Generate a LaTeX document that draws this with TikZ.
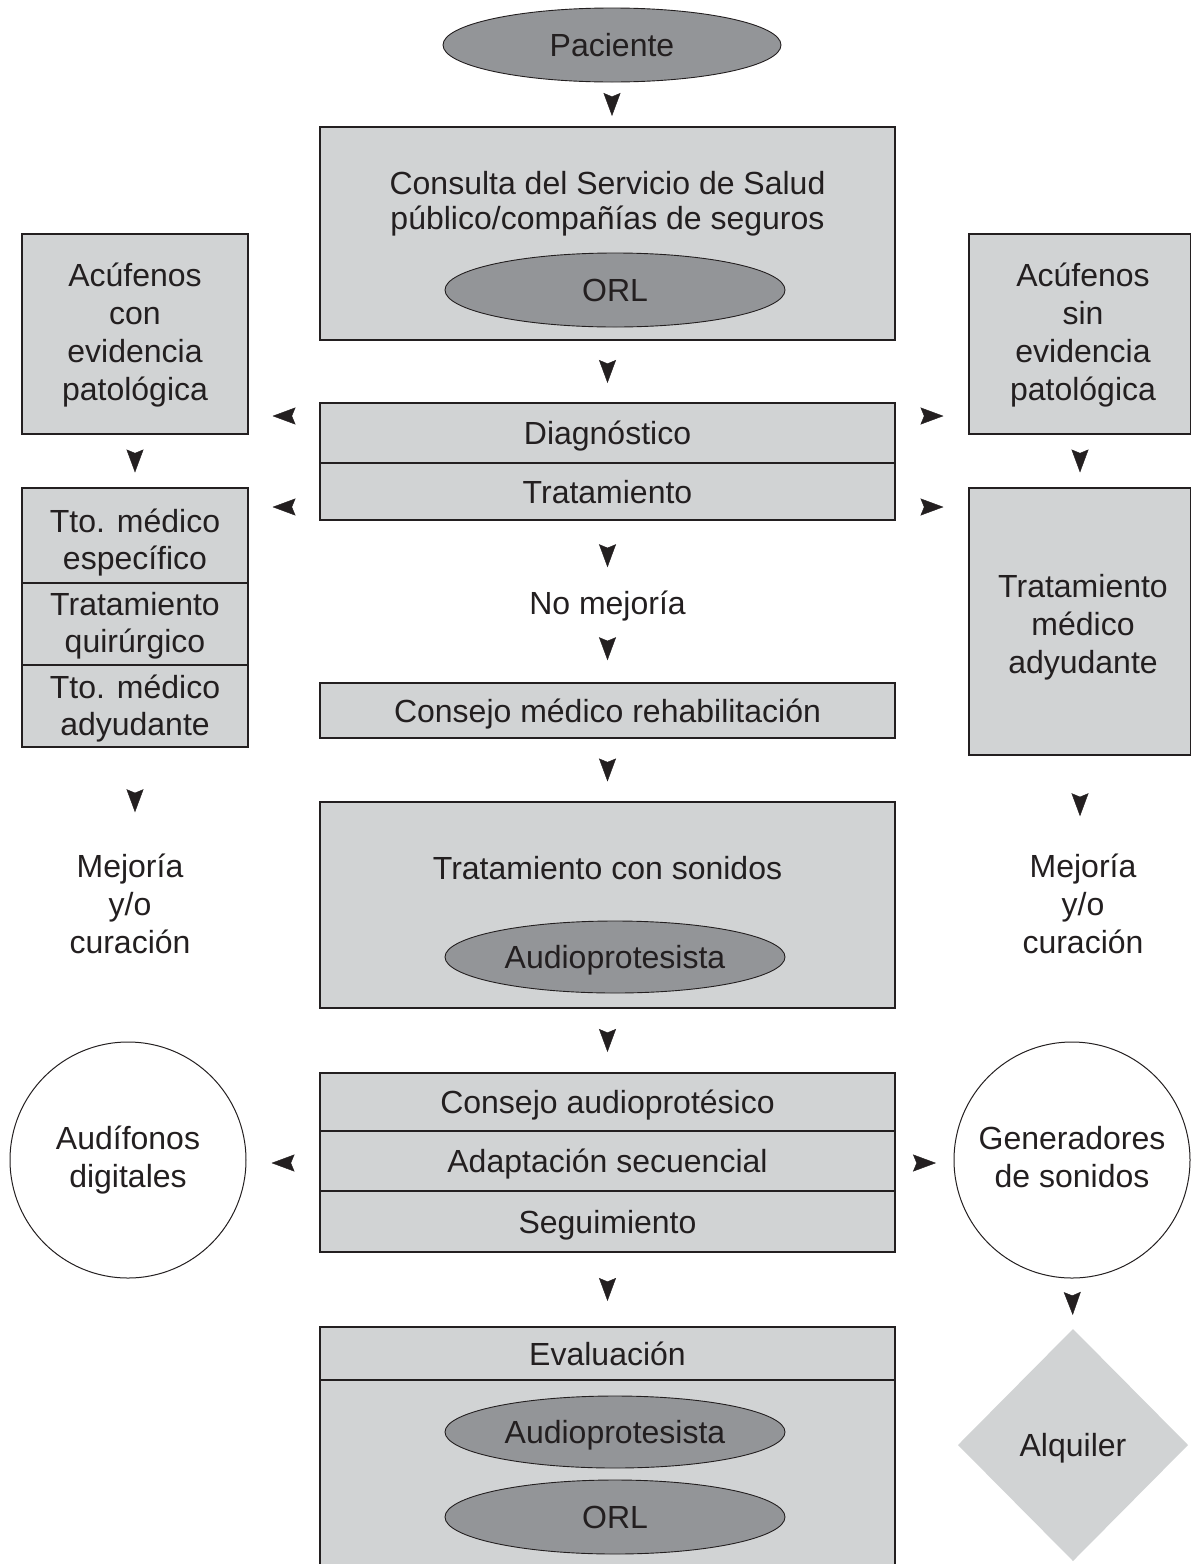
\documentclass[tikz,border=0pt]{standalone}
\usepackage{fontspec}
\setmainfont{Liberation Sans}
\usetikzlibrary{shapes.geometric, arrows.meta, decorations.markings}
\definecolor{tc}{HTML}{231F20}
\definecolor{lg}{HTML}{D1D3D4}
\definecolor{dg}{HTML}{939598}
\begin{document}
\begin{tikzpicture}[x=1pt, y=-1pt,
  base/.style={font=\fontsize{32}{38}\selectfont, text=tc, inner sep=0pt, outer sep=0pt, text height=23pt, text depth=0pt},
  box/.style={base, rectangle, draw=tc, fill=lg, line width=1.4pt},
  ell/.style={base, ellipse, draw=tc, fill=dg, line width=0.9pt, minimum width=338pt, minimum height=74pt},
  circ/.style={base, circle, draw=tc, line width=1pt, minimum size=236pt},
  lbl/.style={base},
  gap/.style={decorate, decoration={markings, mark=at position 0.5 with {\arrow[tc, xshift=11.5pt]{Stealth[length=23pt, width=17pt, inset=3.5pt]}}}}
]
\useasboundingbox (0,0) rectangle (1191,1564);

% top
\node[ell] (pac) at (612,45) {Paciente};

\node[box, minimum width=575pt, minimum height=213pt] (cons) at (607.5,233.5) {};
\node[lbl] (cons1) at (607.5,183) {Consulta del Servicio de Salud};
\node[lbl] (cons2) at (607.5,218) {público/compañías de seguros};
\node[ell, minimum width=340pt, minimum height=74pt] (orl1) at (615,290) {ORL};

\node[box, minimum width=575pt, minimum height=60pt] (diag) at (607.5,433) {Diagnóstico};
\node[box, minimum width=575pt, minimum height=57pt] (trat) at (607.5,491.5) {Tratamiento};

% left column
\node[box, minimum width=226pt, minimum height=200pt] (acl) at (135,334) {};
\node[lbl] (acl1) at (135,275) {Acúfenos};
\node[lbl] (acl2) at (135,313) {con};
\node[lbl] (acl3) at (135,351) {evidencia};
\node[lbl] (acl4) at (135,389) {patológica};

\node[box, minimum width=226pt, minimum height=95pt] (tto1) at (135,535.5) {};
\node[lbl] (tto1a) at (135,521) {Tto. médico};
\node[lbl] (tto1b) at (135,558) {específico};
\node[box, minimum width=226pt, minimum height=82pt] (tto2) at (135,624) {};
\node[lbl] (tto2a) at (135,604) {Tratamiento};
\node[lbl] (tto2b) at (135,641) {quirúrgico};
\node[box, minimum width=226pt, minimum height=82pt] (tto3) at (135,706) {};
\node[lbl] (tto3a) at (135,687) {Tto. médico};
\node[lbl] (tto3b) at (135,724) {adyudante};

\node[lbl] (mejL1) at (130,866) {Mejoría};
\node[lbl] (mejL2) at (130,904) {y/o};
\node[lbl] (mejL3) at (130,942) {curación};

% right column
\node[box, minimum width=222pt, minimum height=200pt] (acr) at (1080,334) {};
\node[lbl] (acr1) at (1083,275) {Acúfenos};
\node[lbl] (acr2) at (1083,313) {sin};
\node[lbl] (acr3) at (1083,351) {evidencia};
\node[lbl] (acr4) at (1083,389) {patológica};

\node[box, minimum width=222pt, minimum height=267pt] (tma) at (1080,621.5) {};
\node[lbl] (tma1) at (1083,586) {Tratamiento};
\node[lbl] (tma2) at (1083,624) {médico};
\node[lbl] (tma3) at (1083,662) {adyudante};

\node[lbl] (mejR1) at (1083,866) {Mejoría};
\node[lbl] (mejR2) at (1083,904) {y/o};
\node[lbl] (mejR3) at (1083,942) {curación};

% centre column
\node[lbl] (nm) at (607.5,603) {No mejoría};
\node[box, minimum width=575pt, minimum height=55pt] (cmr) at (607.5,710.5) {Consejo médico rehabilitación};

\node[box, minimum width=575pt, minimum height=206pt] (tcs) at (607.5,905) {};
\node[lbl] (tcs1) at (607.5,868) {Tratamiento con sonidos};
\node[ell, minimum width=340pt, minimum height=72pt] (aud1) at (615,957) {Audioprotesista};

\node[box, minimum width=575pt, minimum height=58pt] (cau) at (607.5,1102) {Consejo audioprotésico};
\node[box, minimum width=575pt, minimum height=60pt] (ada) at (607.5,1161) {Adaptación secuencial};
\node[box, minimum width=575pt, minimum height=61pt] (seg) at (607.5,1221.5) {Seguimiento};

\node[circ] (audig) at (128,1160) {};
\node[lbl] (audig1) at (128,1138) {Audífonos};
\node[lbl] (audig2) at (128,1176) {digitales};
\node[circ] (gen) at (1072,1160) {};
\node[lbl] (gen1) at (1072,1138) {Generadores};
\node[lbl] (gen2) at (1072,1176) {de sonidos};

\node[base, diamond, fill=lg, minimum width=230pt, minimum height=232pt] (alq) at (1073,1445) {Alquiler};

\node[box, minimum width=575pt, minimum height=53pt] (evaT) at (607.5,1353.5) {Evaluación};
\node[box, minimum width=575pt, minimum height=240pt] (evaB) at (607.5,1500) {};
\node[ell, minimum width=340pt, minimum height=72pt] (aud2) at (615,1432) {Audioprotesista};
\node[ell, minimum width=340pt, minimum height=74pt] (orl2) at (615,1517) {ORL};

% arrowheads
\coordinate (y1) at (0,416);
\coordinate (y2) at (0,507);
\coordinate (y3) at (0,1163);
\path[gap] (pac.south) -- (pac.south |- cons.north);
\path[gap] (cons.south) -- (diag.north);
\path[gap] (diag.west |- y1) -- (acl.east |- y1);
\path[gap] (trat.west |- y2) -- (tto1.east |- y2);
\path[gap] (diag.east |- y1) -- (acr.west |- y1);
\path[gap] (trat.east |- y2) -- (tma.west |- y2);
\path[gap] (acl.south) -- (tto1.north);
\path[gap] (acr.south) -- (tma.north);
\path[gap] (trat.south) -- (nm.north);
\path[gap] (nm.south) -- (cmr.north);
\path[gap] (cmr.south) -- (tcs.north);
\path[gap] (tto3.south) -- (tto3.south |- mejL1.north);
\path[gap] (tma.south) -- (tma.south |- mejR1.north);
\path[gap] (tcs.south) -- (cau.north);
\path[gap] (seg.south) -- (evaT.north);
\path[gap] (ada.west |- y3) -- (audig.east |- y3);
\path[gap] (ada.east |- y3) -- (gen.west |- y3);
\path[gap] (gen.south) -- (alq.north);
\end{tikzpicture}
\end{document}
